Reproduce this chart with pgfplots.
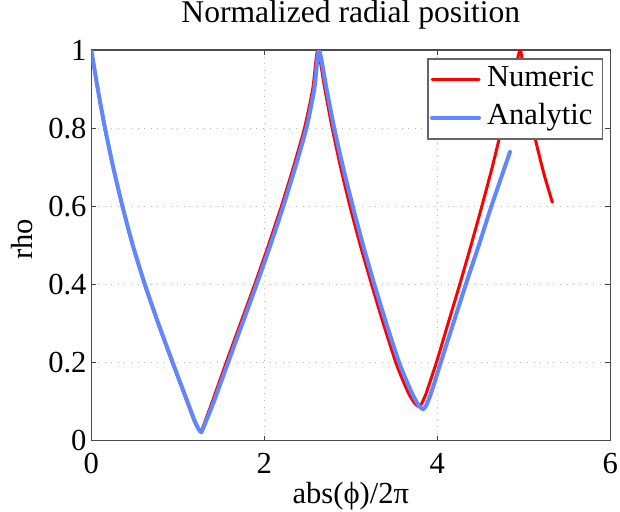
\documentclass[border=0pt]{standalone}
\usepackage{fontspec}
\setmainfont{Liberation Serif}
\usepackage{pgfplots}
\pgfplotsset{compat=1.18}

\definecolor{numred}{rgb}{1,0,0}
\definecolor{anablue}{rgb}{0.38,0.53,1.0}

\begin{document}
\begin{tikzpicture}[font=\fontsize{15.3}{18}\selectfont]
\begin{axis}[
  at={(45.65pt,35.25pt)}, anchor=south west,
  width=259.5pt, height=195.25pt, scale only axis,
  xmin=0, xmax=6, ymin=0, ymax=1,
  xtick={0,2,4,6}, ytick={0,0.2,0.4,0.6,0.8,1},
  /pgf/number format/assume math mode=true,
  tick label style={font=\fontsize{15.3}{18}\selectfont},
  xticklabel style={anchor=base, inner sep=0pt, yshift=-16.25pt},
  yticklabel style={anchor=east, inner sep=0pt, xshift=-2.2pt},
  tick align=inside, major tick length=2.5pt,
  tick style={black!75, line width=0.5pt},
  axis line style={black!70, line width=0.6pt},
  grid=major,
  major grid style={gray!55, line width=0.45pt, dash pattern=on 0.5pt off 2.8pt},
  title={Normalized radial position},
  every axis title/.style={at={(axis description cs:0.5,1)}, anchor=base, yshift=14pt, inner sep=0pt, font=\fontsize{15.8}{18}\selectfont},
  xlabel={abs(ϕ)/2π},
  every axis x label/.style={at={(axis description cs:0.5,0)}, anchor=base, yshift=-31.25pt, inner sep=0pt},
  ylabel={rho},
  every axis y label/.style={at={(axis description cs:-0.1326,0.515)}, rotate=90, anchor=center, inner sep=0pt},
  legend style={at={(axis description cs:1,1)}, anchor=north east,
    xshift=-3.8pt, yshift=-4.15pt, draw=black!60, line width=0.6pt, fill=white,
    inner xsep=1pt, inner ysep=1pt,
    nodes={inner xsep=3pt, inner ysep=2pt, text height=11pt, text depth=4pt, font=\fontsize{15.3}{18}\selectfont}},
  legend cell align=left,
  legend image code/.code={\draw[#1] (0pt,0pt) -- (23.5pt,0pt);},
  every axis plot/.append style={smooth, tension=0.35, line join=round, line cap=round},
]
% numerical integration of the orbit
\addplot[numred, line width=1.5pt] coordinates {
(0,1) (0.075,0.9) (0.158,0.8) (0.252,0.7) (0.358,0.6) (0.478,0.5) (0.616,0.4)
(0.771,0.3) (0.936,0.2) (1.106,0.1) (1.19,0.05) (1.235,0.03) (1.265,0.022)
(1.29,0.034) (1.33,0.058) (1.40,0.1) (1.56,0.2) (1.725,0.3) (1.89,0.4)
(2.048,0.5) (2.198,0.6) (2.337,0.7) (2.465,0.8) (2.56,0.9) (2.618,1.0)
(2.70,0.9) (2.785,0.8) (2.882,0.7) (2.99,0.6) (3.11,0.5) (3.24,0.4)
(3.375,0.3) (3.52,0.2) (3.60,0.155) (3.67,0.12) (3.73,0.098) (3.765,0.09)
(3.792,0.087) (3.82,0.095) (3.87,0.12) (3.93,0.16) (3.99,0.2) (4.125,0.3)
(4.26,0.4) (4.39,0.5) (4.515,0.6) (4.635,0.7) (4.745,0.8) (4.85,0.9)
(4.956,1.0) (5.0,0.94) (5.06,0.86) (5.13,0.775) (5.23,0.685) (5.33,0.61)
};
\addlegendentry{Numeric}
% closed-form solution
\addplot[anablue, line width=2pt] coordinates {
(0,1) (0.075,0.9) (0.158,0.8) (0.253,0.7) (0.36,0.6) (0.48,0.5) (0.619,0.4)
(0.775,0.3) (0.941,0.2) (1.111,0.1) (1.196,0.05) (1.24,0.03) (1.27,0.021)
(1.298,0.034) (1.342,0.058) (1.418,0.1) (1.582,0.2) (1.747,0.3) (1.912,0.4)
(2.07,0.5) (2.22,0.6) (2.359,0.7) (2.487,0.8) (2.578,0.9) (2.632,1.0)
(2.72,0.9) (2.808,0.8) (2.91,0.7) (3.022,0.6) (3.142,0.5) (3.272,0.4)
(3.41,0.3) (3.558,0.2) (3.64,0.155) (3.71,0.12) (3.77,0.095) (3.805,0.085)
(3.835,0.08) (3.865,0.087) (3.91,0.11) (3.97,0.15) (4.04,0.2) (4.185,0.3)
(4.33,0.4) (4.48,0.5) (4.625,0.6) (4.78,0.7) (4.84,0.739)
};
\addlegendentry{Analytic}
\end{axis}
\pgfresetboundingbox
\path[use as bounding box] (0,0) rectangle (310pt,255.5pt);
\end{tikzpicture}
\end{document}
